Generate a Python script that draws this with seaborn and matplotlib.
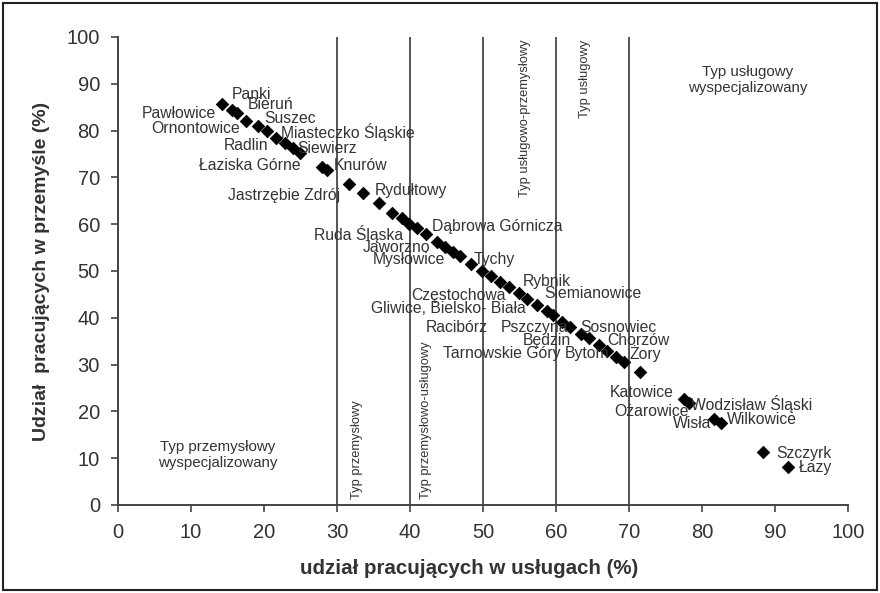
import matplotlib
matplotlib.use("Agg")
import matplotlib.pyplot as plt
import seaborn as sns
import pandas as pd
from matplotlib.patches import Rectangle

# ---- data ----
uslugi = [14.3, 15.6, 16.3, 17.6, 19.2, 20.4, 21.7, 22.9, 24.0, 24.9,
          27.9, 28.6, 31.7, 33.6, 35.7, 37.5, 38.9, 39.9, 41.0, 42.2,
          43.7, 44.8, 45.9, 46.9, 48.4, 49.8, 51.1, 52.3, 53.6, 54.9,
          56.0, 57.4, 58.7, 59.6, 60.8, 61.9, 63.4, 64.5, 65.9, 67.0,
          68.2, 69.3, 71.5, 77.6, 78.2, 81.6, 82.6, 88.4, 91.8]
przemysl = [85.7, 84.4, 83.7, 82.1, 81.0, 80.0, 78.4, 77.3, 76.2, 75.2,
            72.3, 71.6, 68.5, 66.6, 64.6, 62.3, 61.3, 60.0, 59.2, 57.9,
            56.3, 55.2, 54.1, 53.2, 51.6, 50.1, 48.9, 47.7, 46.6, 45.3,
            44.1, 42.7, 41.5, 40.5, 39.2, 38.1, 36.6, 35.6, 34.1, 32.9,
            31.7, 30.6, 28.5, 22.6, 21.9, 18.3, 17.5, 11.4, 8.2]

town_names = ["Panki", "Pawłowice", "Bieruń", "Suszec", "Ornontowice",
              "Miasteczko Śląskie", "Radlin", "Siewierz", "Łaziska Górne",
              "Knurów", "Jastrzębie Zdrój", "Rydułtowy", "Dąbrowa Górnicza",
              "Ruda Śląska", "Jaworzno", "Mysłowice", "Tychy", "Rybnik",
              "Siemianowice", "Częstochowa", "Gliwice, Bielsko- Biała",
              "Racibórz", "Pszczyna", "Sosnowiec", "Będzin", "Chorzów",
              "Tarnowskie Góry", "Bytom", "Żory", "Katowice",
              "Wodzisław Śląski", "Ożarowice", "Wisła", "Wilkowice",
              "Szczyrk", "Łazy"]

type_lines = [30, 40, 50, 60, 70]
x_ticks = list(range(0, 101, 10))
y_ticks = list(range(0, 101, 10))

# ---- layout of labels (data coordinates, centre of text) ----
label_pos = [(18.3, 87.8), (8.4, 83.7), (20.9, 85.5), (23.6, 82.6), (10.7, 80.5),
             (31.5, 79.8), (17.5, 76.9), (28.6, 76.2), (18.0, 72.6),
             (33.2, 72.6), (22.8, 66.2), (40.1, 67.3), (51.9, 59.5),
             (32.9, 57.9), (38.2, 55.1), (39.8, 52.4), (51.5, 52.5), (58.8, 47.8),
             (65.0, 45.2), (46.6, 44.8), (45.3, 41.9),
             (46.4, 38.0), (57.1, 38.0), (68.6, 38.0), (58.8, 35.2), (71.3, 35.2),
             (52.6, 32.4), (64.2, 32.4), (72.2, 32.4), (71.8, 24.0),
             (86.8, 21.6), (73.1, 19.9), (78.6, 17.5), (88.2, 18.2),
             (93.9, 11.1), (95.6, 8.1)]

sns.set_theme(style="ticks")
plt.rcParams["font.family"] = ["Liberation Sans", "DejaVu Sans"]

fig = plt.figure(figsize=(8.8, 5.93), dpi=100)
ax = fig.add_axes([118 / 880, 1 - 505 / 593, 730 / 880, 468 / 593])

txt_col = "#333333"
line_col = "#555555"

for xv in type_lines:
    ax.axvline(xv, ymin=0, ymax=1, color=line_col, lw=1.4, zorder=1)

df = pd.DataFrame({"uslugi": uslugi, "przemysl": przemysl})
sns.scatterplot(data=df, x="uslugi", y="przemysl", marker="D", color="black",
                s=40, edgecolor="black", linewidth=0.6, ax=ax, zorder=3)

for name, (tx, ty) in zip(town_names, label_pos):
    ax.text(tx, ty, name, ha="center", va="center", fontsize=11.3,
            color=txt_col, zorder=4)

ax.text(13.7, 10.7, "Typ przemysłowy\nwyspecjalizowany", ha="center",
        va="center", fontsize=10.8, color=txt_col, linespacing=1.2)
ax.text(86.3, 90.8, "Typ usługowy\nwyspecjalizowany", ha="center",
        va="center", fontsize=10.8, color=txt_col, linespacing=1.2)
ax.text(32.7, 1.2, "Typ przemysłowy", rotation=90, ha="center", va="bottom",
        fontsize=9.3, color=txt_col)
ax.text(42.2, 1.2, "Typ przemysłowo-usługowy", rotation=90, ha="center",
        va="bottom", fontsize=9.3, color=txt_col)
ax.text(55.8, 99.5, "Typ usługowo-przemysłowy", rotation=90, ha="center",
        va="top", fontsize=9.3, color=txt_col)
ax.text(64.0, 99.5, "Typ usługowy", rotation=90, ha="center", va="top",
        fontsize=9.3, color=txt_col)

ax.set_xlim(0, 100)
ax.set_ylim(0, 100)
ax.set_xticks(x_ticks)
ax.set_yticks(y_ticks)
ax.tick_params(axis="both", labelsize=14.5, colors="#444444", length=5,
               width=1.2, direction="out", pad=8)
for lab in ax.get_xticklabels() + ax.get_yticklabels():
    lab.set_color(txt_col)
sns.despine(ax=ax)
for sp in ["left", "bottom"]:
    ax.spines[sp].set_color("#444444")
    ax.spines[sp].set_linewidth(1.4)

ax.set_xlabel("udział pracujących w usługach (%)", fontsize=14.8,
              fontweight="bold", color=txt_col)
ax.xaxis.set_label_coords((469 - 118) / 730, -0.115)
ax.set_ylabel("Udział  pracujących w przemyśle (%)", fontsize=14,
              fontweight="bold", color=txt_col, labelpad=12)

fig.add_artist(Rectangle((3 / 880, 3 / 593), 1 - 6 / 880, 1 - 6 / 593,
                         transform=fig.transFigure, fill=False,
                         edgecolor="#222222", lw=1.5))

fig.savefig("out.png", dpi=100)
